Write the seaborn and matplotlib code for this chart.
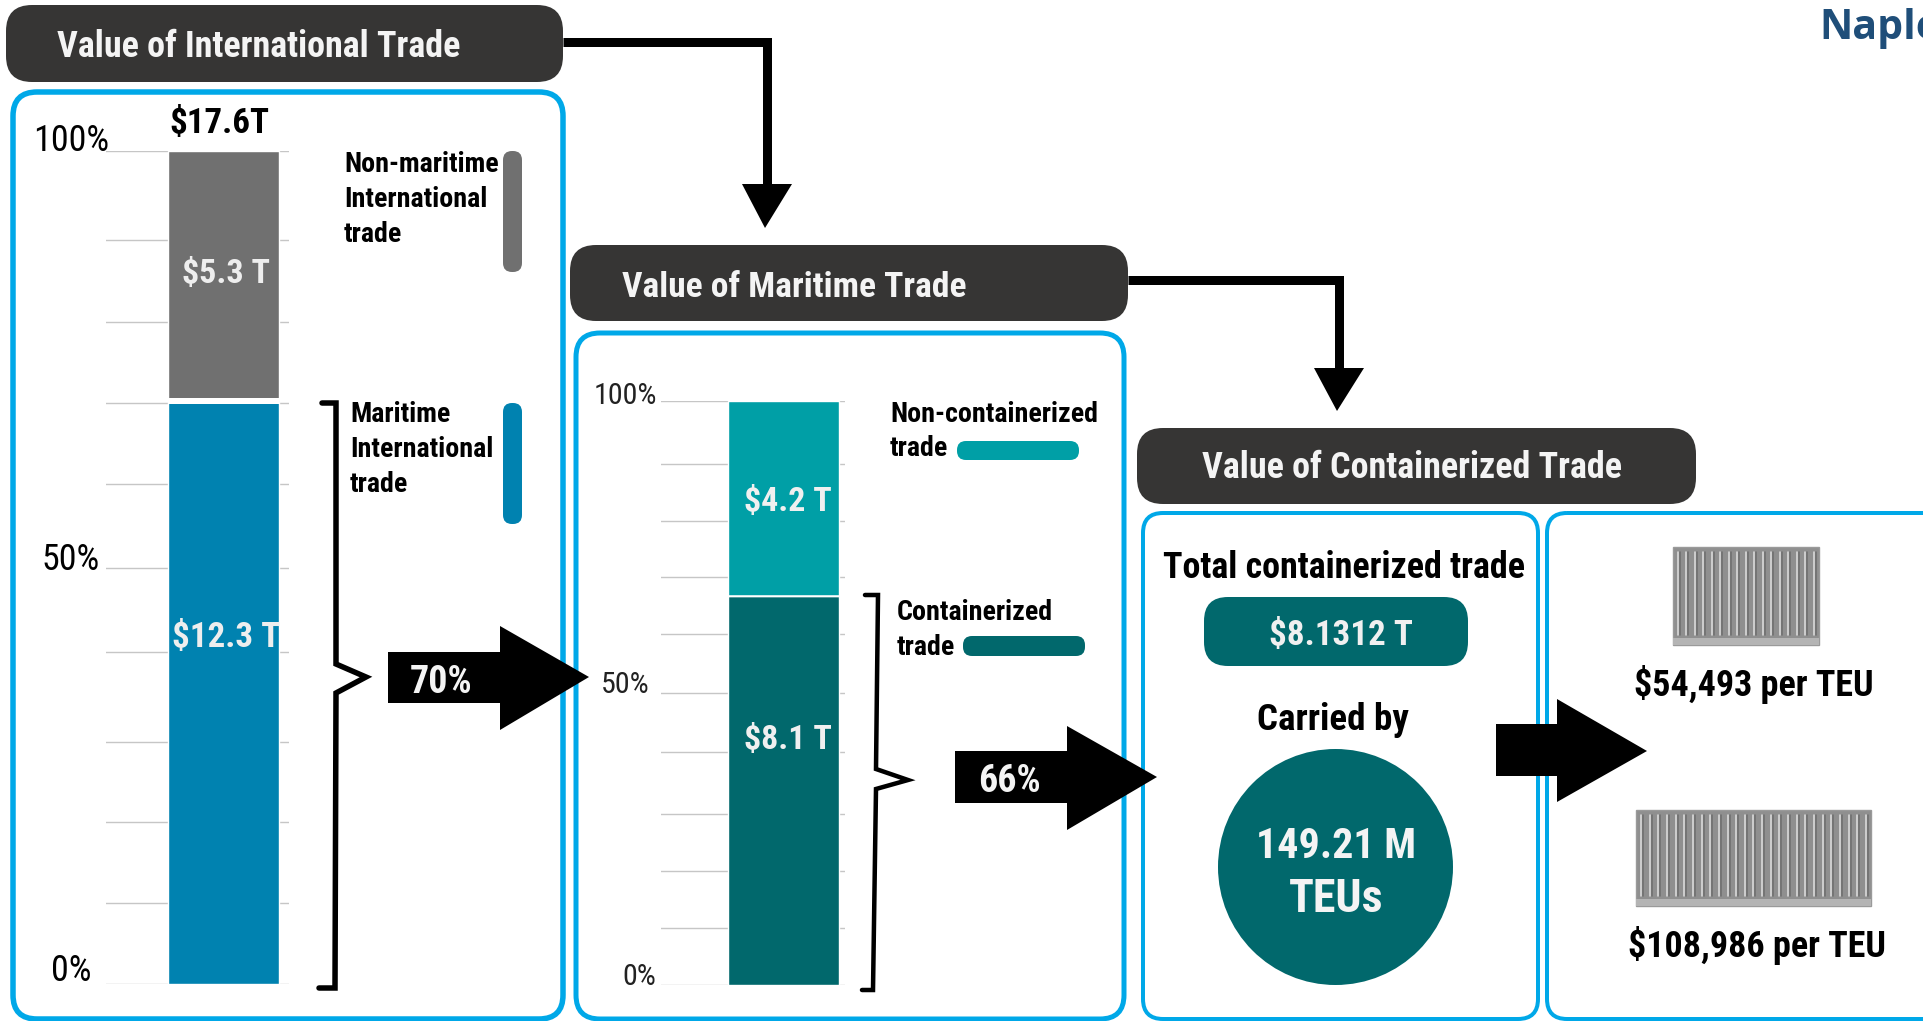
import matplotlib
matplotlib.use("Agg")
import matplotlib.pyplot as plt
from matplotlib.patches import FancyBboxPatch, Polygon, Ellipse, Rectangle
import numpy as np
import seaborn as sns

# DATA
intl_shares = [70, 30]
intl_labels = ["$12.3 T", "$5.3 T"]
intl_total = "$17.6T"
intl_grid = [0, 9.7, 19.4, 29.1, 39.9, 50, 60, 69.7, 79.5, 89.3, 100]

mar_shares = [66.6, 33.4]
mar_labels = ["$8.1 T", "$4.2 T"]
mar_grid = [0, 9.8, 19.5, 29.3, 39.9, 50, 60.1, 69.8, 79.5, 89.2, 100]

pct_labels = ["0%", "50%", "100%"]
headers = ["Value of International Trade", "Value of Maritime Trade", "Value of Containerized Trade"]
total_label = "Total containerized trade"
total_value = "$8.1312 T"
teus = ["149.21 M", "TEUs"]
per_teu = ["$54,493 per TEU", "$108,986 per TEU"]

GREY = "#707070"
BLUE = "#0082B0"
TEAL = "#009FA6"
DARK_TEAL = "#01686C"
DARK = "#363534"
SKY = "#00A8E8"

sns.set_theme(style="white")
plt.rcParams["font.family"] = ["Roboto Condensed", "Roboto", "DejaVu Sans"]

W, H = 1924, 1021
fig = plt.figure(figsize=(W / 100, H / 100), dpi=100, facecolor="white")

# whole figure axes in pixels, for boxes, arrows and text
bg = fig.add_axes([0, 0, 1, 1], zorder=2)
bg.set_xlim(0, W)
bg.set_ylim(H, 0)
bg.axis("off")


def px(size):
    return size * 0.72


def box(x0, y0, x1, y1, r, face="none", edge="none", lw=0, z=1):
    bg.add_patch(FancyBboxPatch((x0, y0), x1 - x0, y1 - y0, boxstyle=f"round,pad=0,rounding_size={r}",
                                facecolor=face, edgecolor=edge, linewidth=px(lw), zorder=z))


def txt(x, y, s, size, color="black", weight="bold", ha="left", z=6, **kw):
    bg.text(x, y, s, fontsize=px(size), color=color, fontweight=weight, ha=ha, va="baseline", zorder=z, **kw)


def block_arrow(x0, x1, x2, y0, y1, y2, y3, tip):
    pts = [(x0, y1), (x1, y1), (x1, y0), (x2, tip), (x1, y3), (x1, y2), (x0, y2)]
    bg.add_patch(Polygon(pts, closed=True, facecolor="black", edgecolor="none", zorder=4))


def connector(pts, head_y, tip_y):
    xs, ys = zip(*pts)
    bg.plot(xs, ys, color="black", lw=px(9), solid_joinstyle="miter", solid_capstyle="butt", zorder=3)
    x = xs[-1]
    bg.add_patch(Polygon([(x - 25, head_y), (x + 25, head_y), (x - 2, tip_y)], closed=True,
                         facecolor="black", edgecolor="none", zorder=3))


def container(x0, y0, x1, y1, ribs):
    bg.add_patch(Rectangle((x0, y0), x1 - x0, y1 - y0, facecolor="#8f8f8f", edgecolor="#9a9a9a", lw=1, zorder=2))
    for x in np.linspace(x0 + 5, x1 - 5, ribs):
        bg.plot([x + 2, x + 2], [y0 + 5, y1 - 10], color="#6f6f6f", lw=px(1.6), zorder=3)
        bg.plot([x, x], [y0 + 5, y1 - 10], color="#dcdcdc", lw=px(1.6), zorder=3)
    bg.add_patch(Rectangle((x0, y1 - 7), x1 - x0, 7, facecolor="#b4b4b4", edgecolor="none", zorder=3))


# panels
box(13, 92, 563, 1019, 24, edge=SKY, lw=5.5)
box(576, 333, 1124, 1019, 24, edge=SKY, lw=5)
box(1143, 513, 1538, 1019, 20, edge=SKY, lw=4)
box(1547, 513, 1990, 1019, 20, edge=SKY, lw=4)

# header bars
box(6, 5, 563, 82, 26, face=DARK, z=2)
box(570, 245, 1128, 321, 26, face=DARK, z=2)
box(1137, 428, 1696, 504, 26, face=DARK, z=2)
txt(57, 57, headers[0], 36, color="#f4f4f4")
txt(622, 297, headers[1], 35.5, color="#f4f4f4")
txt(1202, 478, headers[2], 36, color="#f4f4f4")

connector([(563, 42), (767, 42), (767, 186)], 184, 228)
connector([(1128, 280), (1339, 280), (1339, 370)], 368, 411)

bg.text(1819, 39, "Naple", fontsize=px(41), color="#1F4E79", fontweight="bold", family="Open Sans", zorder=6,
        clip_on=True)


def stacked(rect, shares, colors, grid, bar_px, gap=0):
    # rect is pixel box of the axis: left, top, right, bottom
    left, top, right, bottom = rect
    ax = fig.add_axes([left / W, 1 - bottom / H, (right - left) / W, (bottom - top) / H], zorder=1)
    ax.patch.set_alpha(0)
    ax.hlines(grid, -10, 10, color="#c6c6c6", lw=1, zorder=1)
    base = 0
    for i in range(len(shares)):
        sns.barplot(x=["share"], y=[shares[i]], bottom=base, width=1, color=colors[i], saturation=1,
                    zorder=2, ax=ax)
        base += shares[i]
    if gap:
        ax.hlines(shares[0], -0.5, 0.5, color="white", lw=px(gap), zorder=3)
    unit = bar_px[1] - bar_px[0]
    mid = (bar_px[0] + bar_px[1]) / 2
    ax.set_xlim((left - mid) / unit, (right - mid) / unit)
    ax.set_ylim(0, 100)
    ax.set_xlabel("")
    ax.set_ylabel("")
    ax.set_xticks([])
    ax.set_yticks([])
    sns.despine(ax=ax, left=True, bottom=True)
    return ax


stacked((106, 151, 289, 984), intl_shares, [BLUE, GREY], intl_grid, (168, 279), gap=6)
stacked((661, 401, 845, 985), mar_shares, [DARK_TEAL, TEAL], mar_grid, (728.5, 839), gap=1.5)

# panel one labels
txt(92, 981, pct_labels[0], 36, weight="normal", ha="right")
txt(100, 570, pct_labels[1], 36, weight="normal", ha="right")
txt(109, 151, pct_labels[2], 36, weight="normal", ha="right")
txt(219, 133, intl_total, 35, ha="center")
txt(226, 283, intl_labels[1], 34, color="#eeeeee", ha="center")
txt(226, 647, intl_labels[0], 35, color="#eeeeee", ha="center")
txt(344, 172, "Non-maritime", 28)
txt(344, 207, "International", 28)
txt(344, 242, "trade", 28)
txt(350, 422, "Maritime", 28)
txt(350, 457, "International", 28)
txt(350, 492, "trade", 28)
box(503, 151, 522, 272, 9, face=GREY, z=2)
box(503, 403, 522, 524, 9, face=BLUE, z=2)

# panel two labels
txt(657, 404, pct_labels[2], 30, weight="normal", ha="right", color="#222222")
txt(650, 693, pct_labels[1], 30, weight="normal", ha="right", color="#222222")
txt(656, 985, pct_labels[0], 30, weight="normal", ha="right", color="#222222")
txt(788, 511, mar_labels[1], 34, color="#f0f0f0", ha="center")
txt(788, 749, mar_labels[0], 34, color="#f0f0f0", ha="center")
txt(890, 422, "Non-containerized", 28)
txt(890, 456, "trade", 28)
txt(897, 620, "Containerized", 28)
txt(897, 655, "trade", 28)
box(957, 441, 1079, 460, 9, face=TEAL, z=2)
box(963, 636, 1085, 656, 9, face=DARK_TEAL, z=2)

# braces
brace1 = [(322, 403), (336, 403), (336, 664), (366, 677), (336, 693), (335, 988), (319, 988)]
brace2 = [(865, 595), (878, 595), (876, 769), (908, 780), (876, 789), (873, 990), (862, 990)]
bg.plot(*zip(*brace1), color="black", lw=px(5.5), solid_joinstyle="miter", zorder=3)
bg.plot(*zip(*brace2), color="black", lw=px(4.5), solid_joinstyle="miter", zorder=3)

# block arrows
block_arrow(388, 500, 589, 626, 652, 703, 730, 677)
block_arrow(955, 1067, 1157, 726, 751, 803, 830, 777)
block_arrow(1496, 1557, 1647, 699, 724, 776, 802, 751)
txt(441, 693, "70%", 38, color="#f4f4f4", ha="center")
txt(1009, 792, "66%", 38, color="#f4f4f4", ha="center")

# containerized panel
txt(1344, 578, total_label, 36, ha="center")
box(1204, 597, 1468, 666, 24, face=DARK_TEAL, z=2)
txt(1341, 645, total_value, 35, color="#f0f0f0", ha="center")
txt(1333, 730, "Carried by", 37, ha="center")
bg.add_patch(Ellipse((1335.5, 867), 235, 236, facecolor=DARK_TEAL, edgecolor="none", zorder=2))
txt(1336, 858, teus[0], 42, color="#f4f4f4", ha="center")
txt(1336, 912, teus[1], 46, color="#f4f4f4", ha="center")

# per TEU panel
container(1673, 547, 1819, 645, 17)
container(1636, 810, 1871, 906, 27)
txt(1754, 696, per_teu[0], 36, ha="center")
txt(1757, 957, per_teu[1], 36, ha="center")

fig.savefig("out.png", dpi=100)
